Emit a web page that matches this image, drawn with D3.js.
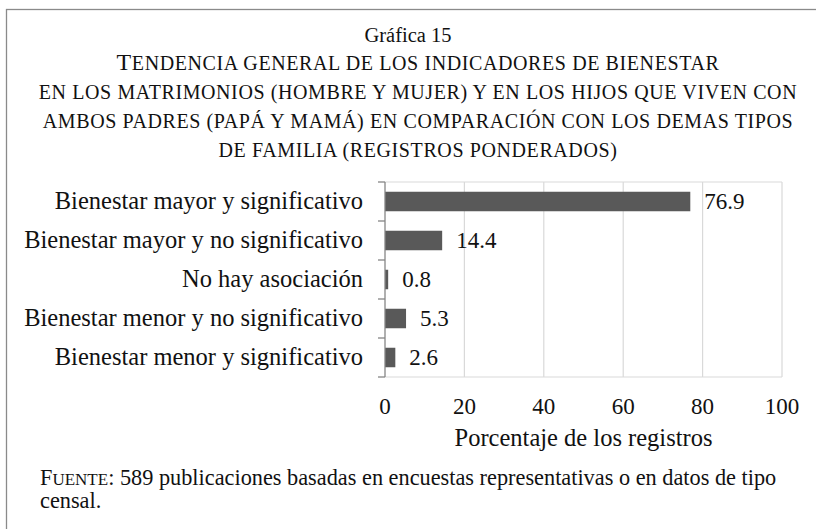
<!DOCTYPE html>
<html>
<head>
<meta charset="utf-8">
<script src="https://cdn.jsdelivr.net/npm/d3@7"></script>
<style>
  body { margin: 0; background: #fff; }
  text { font-family: "Liberation Serif", "Times New Roman", serif; fill: #111; }
</style>
</head>
<body>
<div id="chart"></div>
<script>
var width = 816;
var height = 529;

// data
var categories = [
  "Bienestar mayor y significativo",
  "Bienestar mayor y no significativo",
  "No hay asociación",
  "Bienestar menor y no significativo",
  "Bienestar menor y significativo"
];
var values = [76.9, 14.4, 0.8, 5.3, 2.6];
var xTicks = [0, 20, 40, 60, 80, 100];

// title lines in small caps: [initial capital, rest]
var titleLines = [
  ["T", "endencia general de los indicadores de bienestar"],
  ["", "en los matrimonios (hombre y mujer) y en los hijos que viven con"],
  ["", "ambos padres (papá y mamá) en comparación con los demas tipos"],
  ["", "de familia (registros ponderados)"]
];

var data = categories.map(function(c, i) { return {cat: c, val: values[i]}; });

var svg = d3.select("#chart").append("svg")
    .attr("width", width)
    .attr("height", height);

// outer frame
svg.append("rect")
    .attr("x", 6.5).attr("y", 9.5)
    .attr("width", 830).attr("height", 540)
    .attr("fill", "none")
    .attr("stroke", "#8a8a8a")
    .attr("stroke-width", 1.3);

// titles
svg.append("text")
    .attr("x", 408).attr("y", 42)
    .attr("text-anchor", "middle")
    .style("font-size", "20.5px")
    .text("Gráfica 15");

var sub = svg.selectAll("text.sub")
    .data(titleLines)
    .enter()
    .append("text")
    .attr("class", "sub")
    .attr("x", 418)
    .attr("y", function(d, i) { return 70 + i * 29; })
    .attr("text-anchor", "middle")
    .style("letter-spacing", "0.6px");
sub.append("tspan")
    .style("font-size", "24px")
    .text(function(d) { return d[0]; });
sub.append("tspan")
    .style("font-size", "20px")
    .text(function(d) { return d[1].toUpperCase(); });

// scales
var xScale = d3.scaleLinear().domain([0, 100]).range([385, 782]);
var yScale = d3.scaleBand().domain(categories).range([182, 377])
    .paddingInner(0.5).paddingOuter(0.25);

// gridlines
svg.append("g")
    .selectAll("line")
    .data(xTicks.slice(1))
    .enter()
    .append("line")
    .attr("x1", function(d) { return xScale(d); })
    .attr("x2", function(d) { return xScale(d); })
    .attr("y1", 182).attr("y2", 377)
    .attr("stroke", "#d9d9d9")
    .attr("stroke-width", 1.2);

// plot frame (top and bottom)
svg.append("line")
    .attr("x1", xScale(0)).attr("x2", xScale(100))
    .attr("y1", 182).attr("y2", 182)
    .attr("stroke", "#d9d9d9").attr("stroke-width", 1.2);
svg.append("line")
    .attr("x1", xScale(0)).attr("x2", xScale(100))
    .attr("y1", 377).attr("y2", 377)
    .attr("stroke", "#d9d9d9").attr("stroke-width", 1.2);

// bars
svg.selectAll("rect.bar")
    .data(data)
    .enter()
    .append("rect")
    .attr("class", "bar")
    .attr("x", xScale(0))
    .attr("y", function(d) { return yScale(d.cat); })
    .attr("width", function(d) { return xScale(d.val) - xScale(0); })
    .attr("height", yScale.bandwidth())
    .attr("fill", "#595959");

// value labels
svg.selectAll("text.val")
    .data(data)
    .enter()
    .append("text")
    .attr("class", "val")
    .attr("x", function(d) { return xScale(d.val) + 14; })
    .attr("y", function(d) { return yScale(d.cat) + yScale.bandwidth() / 2 + 7.5; })
    .style("font-size", "23px")
    .text(function(d) { return d.val.toFixed(1); });

// y axis: line + ticks at category boundaries
var step = yScale.step();
var yAxisG = svg.append("g");
yAxisG.append("line")
    .attr("x1", 385).attr("x2", 385)
    .attr("y1", 182).attr("y2", 377)
    .attr("stroke", "#868686").attr("stroke-width", 1.3);
yAxisG.selectAll("line.tk")
    .data(d3.range(categories.length + 1))
    .enter()
    .append("line")
    .attr("class", "tk")
    .attr("x1", 378).attr("x2", 385)
    .attr("y1", function(i) { return 182 + i * step; })
    .attr("y2", function(i) { return 182 + i * step; })
    .attr("stroke", "#868686").attr("stroke-width", 1.3);

// category labels
svg.selectAll("text.cat")
    .data(categories)
    .enter()
    .append("text")
    .attr("class", "cat")
    .attr("x", 363)
    .attr("y", function(d) { return yScale(d) + yScale.bandwidth() / 2 + 7.5; })
    .attr("text-anchor", "end")
    .style("font-size", "24.5px")
    .text(function(d) { return d; });

// x tick labels
svg.selectAll("text.xt")
    .data(xTicks)
    .enter()
    .append("text")
    .attr("class", "xt")
    .attr("x", function(d) { return xScale(d); })
    .attr("y", 414)
    .attr("text-anchor", "middle")
    .style("font-size", "23px")
    .text(function(d) { return d; });

// axis title
svg.append("text")
    .attr("x", (xScale(0) + xScale(100)) / 2)
    .attr("y", 446)
    .attr("text-anchor", "middle")
    .style("font-size", "24.5px")
    .text("Porcentaje de los registros");

// source note
var src = svg.append("text")
    .attr("x", 40).attr("y", 485)
    .style("font-size", "22.3px");
src.append("tspan").text("F");
src.append("tspan").style("font-size", "17px").text("UENTE");
src.append("tspan").text(": 589 publicaciones basadas en encuestas representativas o en datos de tipo");
svg.append("text")
    .attr("x", 40).attr("y", 508)
    .style("font-size", "22.3px")
    .text("censal.");
</script>
</body>
</html>
